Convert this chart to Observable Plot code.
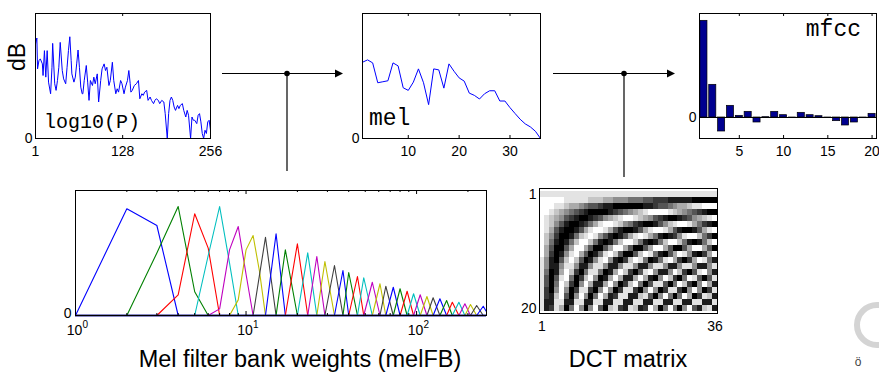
<!DOCTYPE html>
<html><head><meta charset="utf-8">
<script src="https://cdn.jsdelivr.net/npm/d3@7"></script>
<script src="https://cdn.jsdelivr.net/npm/@observablehq/plot@0.6"></script>
<style>
body{margin:0;background:#fff;}
#wrap{position:relative;width:879px;height:372px;overflow:hidden;background:#fff;}
</style></head><body><div id="wrap"></div>
<script>
// ---------- data ----------
// log10(P) power spectrum (bin index, relative level)
const specBin = [1,3,4,6,8,11,12,14,16,18,20,23,25,26,29,31,33,35,37,40,42,45,47,49,51,53,54,57,59,61,63,65,67,69,70,72,75,77,79,81,84,86,88,91,93,96,98,101,103,105,108,110,113,115,118,120,122,125,127,130,132,135,137,139,140,142,145,148,151,153,156,158,160,163,165,168,170,173,175,177,180,182,185,188,190,193,195,197,199,201,203,205,207,208,210,212,215,217,220,222,224,227,229,231,233,236,238,240,242,244,246,248,250,252,254,256];
const specLevel = [0.756,0.804,0.557,0.623,0.637,0.597,0.504,0.703,0.491,0.703,0.451,0.358,0.570,0.761,0.438,0.385,0.464,0.570,0.769,0.544,0.477,0.438,0.570,0.703,0.814,0.623,0.517,0.451,0.491,0.597,0.708,0.570,0.411,0.358,0.358,0.464,0.584,0.451,0.305,0.464,0.424,0.491,0.438,0.517,0.292,0.464,0.557,0.597,0.544,0.570,0.424,0.464,0.610,0.464,0.358,0.398,0.371,0.464,0.438,0.358,0.411,0.464,0.544,0.438,0.371,0.385,0.424,0.438,0.464,0.318,0.358,0.345,0.371,0.385,0.305,0.332,0.305,0.279,0.305,0.318,0.305,0.279,0.305,0.292,0.199,0.0,0.199,0.305,0.332,0.305,0.252,0.225,0.252,0.265,0.239,0.265,0.279,0.225,0.172,0.225,0.186,0.0,0.172,0.146,0.146,0.119,0.186,0.199,0.133,0.040,0.0,0.066,0.040,0.133,0.146,0.066];
const specTicks = [1,128,256];

// mel spectrum (36 bands)
const melBand = d3.range(1, 37);
const melLevel = [0.610,0.629,0.605,0.446,0.454,0.462,0.605,0.581,0.406,0.385,0.451,0.557,0.446,0.271,0.557,0.549,0.403,0.597,0.538,0.485,0.459,0.363,0.345,0.316,0.358,0.382,0.382,0.300,0.300,0.247,0.200,0.154,0.117,0.093,0.058,0.0];
const melTicks = [10,20,30];

// mfcc (20 coefficients)
const mfccIdx = d3.range(1, 21);
const mfccVal = [29,9.8,-4.2,3.5,0.5,1.7,-1.5,0.1,1.7,0.7,-0.1,1.4,0.7,0.4,-0.1,-1.1,-2.4,-1.5,-0.2,1.1];
const mfccTicks = [5,10,15,20];

// mel filter bank: peak bin and peak weight of each of the 36 filters
const fbPeakBin = [2,4,5,7,9,11,13,15,17,20,23,26,29,33,37,40,45,49,55,61,66,73,80,88,96,105,115,125,137,150,162,177,192,207,225,246];
const fbPeakW = [0.854,0.872,0.814,0.872,0.712,0.64,0.626,0.654,0.526,0.574,0.502,0.472,0.432,0.40,0.36,0.344,0.312,0.302,0.266,0.254,0.234,0.226,0.214,0.194,0.174,0.166,0.152,0.142,0.134,0.12,0.106,0.106,0.094,0.088,0.08,0.074];
// sampled vertices of the wide low filters [bin, weight]
const fbLow = [
  [[1,0],[2,0.854],[3,0.72],[4,0]],
  [[2,0],[3,0.50],[4,0.872],[5,0.19],[6,0]],
  [[3,0],[4,0.165],[5,0.814],[6,0.539],[7,0]],
  [[5,0],[6,0.48],[7,0.872],[8,0.42],[9,0]],
  [[6,0],[7,0.053],[8,0.525],[9,0.712],[10,0.33],[11,0]],
  [[8,0],[9,0.125],[10,0.525],[11,0.64],[12,0.35],[13,0]]
];
const fbColors = ["#0000ff","#008000","#ff0000","#00bfbf","#bf00bf","#bfbf00","#404040"];
const fbMajor = [1,10,100];
const fbMinor = [2,3,4,5,6,7,8,9,20,30,40,50,60,70,80,90,200];
const fbExp = ["0","1","2"];

// DCT matrix (20 x 36), gray level 0 (black) .. 9 (white)
const dctRows = [
  "888888888888888888888888888888888888",
  "999998888877766555444332221111100000",
  "999887665433211000000112334566788999",
  "998765432100001234567899998765432100",
  "987653210012356789987653210012356789",
  "987531001246899875421001357899864210",
  "986310013689986310013689986310013689",
  "975200147898531013689864101258997420",
  "974101479974101479974101479974101479",
  "963003699630036996300369963003699630",
  "962015896301489730037984103698510269",
  "851037973015895102798401489620269841",
  "851158851158851158851158851158851158",
  "840169720488401697203895115972038951",
  "830389402795016961169610597204983038",
  "830497205961169502794038830497205961",
  "820595028820595028820595028820595028",
  "821793059504961288117830594049602871",
  "811881188118811881188118811881188118",
  "812860495059307821871296049405931781"
];
const dctYTicks = [1,20];
const dctXTicks = [1,36];

// ---------- drawing ----------
const FONT = '"Liberation Sans", Arial, Helvetica, sans-serif';
const MONO = '"Liberation Mono", "Courier New", monospace';
const wrap = document.getElementById("wrap");
const baseStyle = {fontFamily: FONT, fontSize: "14px", color: "black", background: "transparent", overflow: "visible"};
const zeroFmt = () => "0";
function place(svg, left, top) {
  svg.style.position = "absolute"; svg.style.left = left + "px"; svg.style.top = top + "px";
  wrap.appendChild(svg);
}
function inTicksX(values, innerH, len) {
  return [Plot.ruleX(values, {insetTop: innerH - len, stroke: "black"}),
          Plot.ruleX(values, {insetBottom: innerH - len, stroke: "black"})];
}

// panel 1: log10(P)
const spec = specBin.map((b, i) => ({bin: b, v: specLevel[i]}));
place(Plot.plot({
  width: 230, height: 165, marginLeft: 35, marginRight: 20, marginTop: 13, marginBottom: 27,
  style: baseStyle,
  x: {domain: [1, 256]}, y: {domain: [0, 1]},
  marks: [
    Plot.line(spec, {x: "bin", y: "v", stroke: "#0000ff", strokeWidth: 1, clip: true}),
    Plot.frame({stroke: "black"}),
    ...inTicksX(specTicks, 125, 3),
    Plot.axisX({ticks: specTicks, tickSize: 0, tickPadding: 8, label: null}),
    Plot.axisY({ticks: [0], tickSize: 0, tickPadding: 3, label: null, tickFormat: zeroFmt})
  ]
}), 0, 0);

// panel 2: mel
const mel = melBand.map((b, i) => ({band: b, v: melLevel[i]}));
place(Plot.plot({
  width: 230, height: 165, marginLeft: 32, marginRight: 20, marginTop: 13, marginBottom: 27,
  style: baseStyle,
  x: {domain: [1, 36]}, y: {domain: [0, 1]},
  marks: [
    Plot.line(mel, {x: "band", y: "v", stroke: "#0000ff", strokeWidth: 1}),
    Plot.frame({stroke: "black"}),
    ...inTicksX(melTicks, 125, 3),
    Plot.axisX({ticks: melTicks, tickSize: 0, tickPadding: 8, label: null}),
    Plot.axisY({ticks: [0], tickSize: 0, tickPadding: 3, label: null, tickFormat: zeroFmt})
  ]
}), 330, 0);

// panel 3: mfcc
const mfcc = mfccIdx.map((k, i) => ({k, v: mfccVal[i]}));
place(Plot.plot({
  width: 219, height: 165, marginLeft: 39, marginRight: 3, marginTop: 13, marginBottom: 27,
  style: baseStyle,
  x: {domain: [0.5, 20.5]}, y: {domain: [-6.3, 31.2]},
  marks: [
    Plot.rect(mfcc, {x1: d => d.k - 0.4, x2: d => d.k + 0.4, y1: 0, y2: "v", fill: "#000090", stroke: "black", strokeWidth: 0.7}),
    Plot.ruleY([0], {stroke: "black"}),
    Plot.frame({stroke: "black"}),
    ...inTicksX(mfccTicks, 125, 3),
    Plot.axisX({ticks: mfccTicks, tickSize: 0, tickPadding: 8, label: null}),
    Plot.axisY({ticks: [0], tickSize: 0, tickPadding: 3, label: null, tickFormat: zeroFmt})
  ]
}), 660, 0);

// panel 4: mel filter bank
const fbRows = [];
fbPeakBin.forEach((pk, f) => {
  let verts;
  if (f < fbLow.length) verts = fbLow[f];
  else {
    const lo = fbPeakBin[f - 1];
    const hi = f + 1 < fbPeakBin.length ? fbPeakBin[f + 1] : 257;
    verts = [[lo, 0], [pk, fbPeakW[f]], [hi, hi === 257 ? 0.03 : 0]];
  }
  const pts = [];
  if (verts[0][0] > 1) pts.push([1, 0]);
  pts.push(...verts);
  if (verts[verts.length - 1][0] < 257) pts.push([257, 0]);
  for (const [b, w] of pts) fbRows.push({f, bin: b, w, c: fbColors[f % 7]});
});
place(Plot.plot({
  width: 440, height: 170, marginLeft: 15, marginRight: 14, marginTop: 10, marginBottom: 35,
  style: baseStyle,
  x: {type: "log", domain: [1, 257], axis: null}, y: {domain: [0, 1]},
  color: {type: "identity"},
  marks: [
    Plot.line(fbRows, {x: "bin", y: "w", z: "f", stroke: "c", strokeWidth: 1.1}),
    Plot.ruleY([0], {stroke: "#1a1a90", strokeWidth: 2.2}),
    Plot.frame({stroke: "black"}),
    ...inTicksX(fbMajor, 125, 4),
    ...inTicksX(fbMinor, 125, 2),
    Plot.text(fbMajor, {x: d => d, frameAnchor: "bottom", text: () => "10", dx: -1, dy: 19, fontSize: 14}),
    Plot.text(fbMajor, {x: d => d, frameAnchor: "bottom", text: (d, i) => fbExp[i], textAnchor: "start", dx: 7, dy: 12, fontSize: 10}),
    Plot.axisY({ticks: [0], tickSize: 0, tickPadding: 4, dy: -2, label: null, tickFormat: zeroFmt})
  ]
}), 60, 180);

// panel 5: DCT matrix
const cells = dctRows.flatMap((s, r) => Array.from(s, (ch, j) => ({row: r + 1, col: j + 1, g: +ch / 9})));
place(Plot.plot({
  width: 240, height: 170, marginLeft: 49, marginRight: 13, marginTop: 18, marginBottom: 27,
  style: baseStyle,
  x: {type: "band", domain: d3.range(1, 37), padding: 0},
  y: {type: "band", domain: d3.range(1, 21), padding: 0},
  color: {type: "linear", domain: [0, 1], range: ["black", "white"]},
  marks: [
    Plot.cell(cells, {x: "col", y: "row", fill: "g", inset: 0, shapeRendering: "crispEdges"}),
    Plot.frame({stroke: "black"}),
    Plot.axisX({ticks: dctXTicks, tickSize: 0, tickPadding: 8, label: null}),
    Plot.axisY({ticks: dctYTicks, tickSize: 0, tickPadding: 3, label: null})
  ]
}), 490, 170);

// in-panel labels, connectors, titles, decoration
const NS = "http://www.w3.org/2000/svg";
const ov = document.createElementNS(NS, "svg");
ov.setAttribute("width", 879); ov.setAttribute("height", 372);
ov.style.position = "absolute"; ov.style.left = "0px"; ov.style.top = "0px";
ov.innerHTML = `
  <g font-family='${MONO}' fill="black">
    <text x="44" y="128" font-size="20">log10(P)</text>
    <text x="369" y="125" font-size="23">mel</text>
    <text x="861" y="36" font-size="23" text-anchor="end">mfcc</text>
  </g>
  <g stroke="black" stroke-width="1.2" fill="none">
    <path d="M222,73.5H336"/><path d="M287,73.5V171"/>
    <path d="M553,73.5H668"/><path d="M624,73.5V177"/>
  </g>
  <g fill="black">
    <path d="M343,73.5L335,69.5L335,77.5Z"/><circle cx="287" cy="73.5" r="2.8"/>
    <path d="M675,73.5L667,69.5L667,77.5Z"/><circle cx="624" cy="73.5" r="2.8"/>
  </g>
  <text x="25" y="57" transform="rotate(-90 25 57)" text-anchor="middle" font-family='${FONT}' font-size="23">dB</text>
  <text x="300" y="367" text-anchor="middle" font-family='${FONT}' font-size="23.5">Mel filter bank weights (melFB)</text>
  <text x="628" y="367" text-anchor="middle" font-family='${FONT}' font-size="23.5">DCT matrix</text>
  <circle cx="877" cy="325" r="20" fill="none" stroke="#d4d4d4" stroke-width="6"/>
  <text x="858" y="366" text-anchor="middle" font-family='${FONT}' font-size="12" fill="#444">ö</text>
`;
wrap.appendChild(ov);
</script></body></html>
